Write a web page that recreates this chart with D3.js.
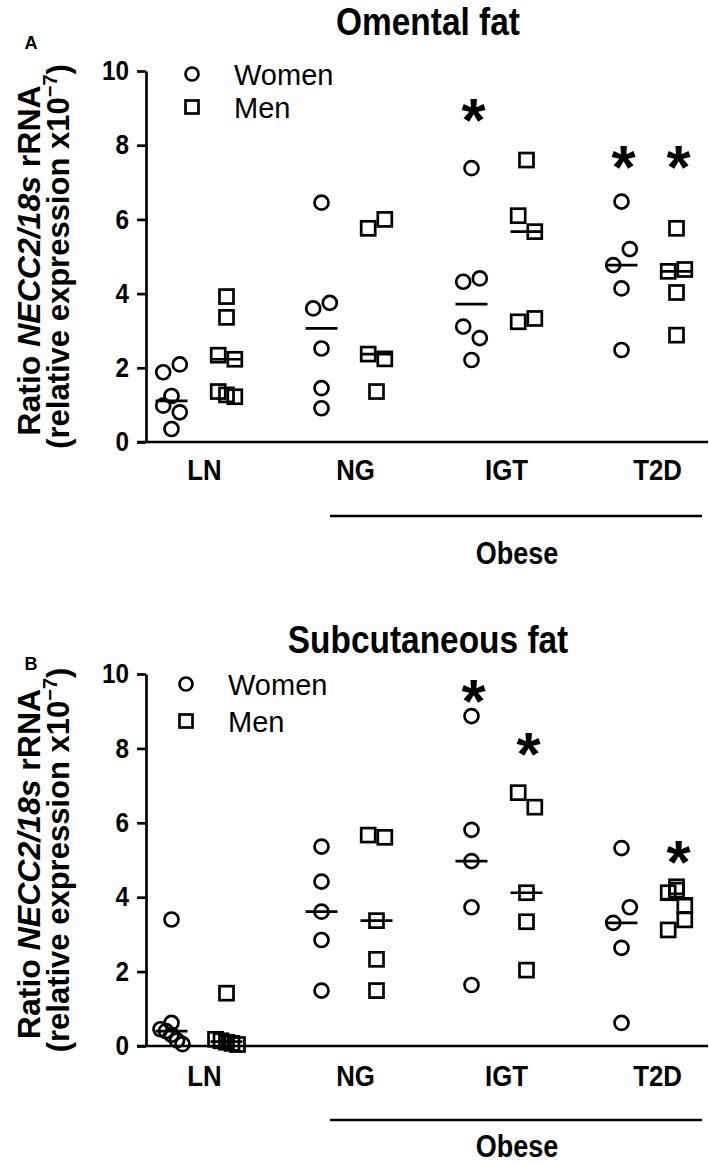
<!DOCTYPE html>
<html>
<head>
<meta charset="utf-8">
<script src="https://cdn.jsdelivr.net/npm/d3@7"></script>
<style>
  html, body { margin: 0; padding: 0; background: #fff; }
  svg { display: block; }
  text { font-family: "Liberation Sans", Arial, Helvetica, sans-serif; fill: #000; }
</style>
</head>
<body>
<svg id="chart" width="709" height="1164"></svg>
<script>
// ---------------- data ----------------
const categories = ["LN", "NG", "IGT", "T2D"];
const sexes = ["Women", "Men"];
const yTicks = [0, 2, 4, 6, 8, 10];

// Omental fat (panel A) – ratio NECC2/18s rRNA (x10^-7)
const omentalWomen = [
  [1.88, 2.09, 1.24, 0.98, 0.80, 0.35],
  [6.45, 3.60, 3.75, 2.52, 1.45, 0.91],
  [7.38, 4.32, 4.41, 3.11, 2.80, 2.21],
  [6.48, 4.77, 5.20, 4.14, 2.48]
];
const omentalMen = [
  [3.36, 3.92, 2.34, 2.23, 1.36, 1.27, 1.22],
  [5.76, 6.00, 2.37, 2.24, 1.36],
  [7.60, 6.10, 5.67, 3.24, 3.33],
  [5.76, 4.60, 4.65, 4.03, 2.88]
];
const omentalStars = [
  { cat: "IGT", sex: "Women", value: 9.08 },
  { cat: "T2D", sex: "Women", value: 7.82 },
  { cat: "T2D", sex: "Men", value: 7.82 }
];

// Subcutaneous fat (panel B)
const subcutWomen = [
  [3.40, 0.62, 0.45, 0.40, 0.30, 0.15, 0.05],
  [5.36, 4.42, 3.61, 2.85, 1.49],
  [8.87, 5.81, 4.97, 3.73, 1.64],
  [5.32, 3.31, 3.73, 2.64, 0.62]
];
const subcutMen = [
  [1.42, 0.18, 0.14, 0.10, 0.07, 0.04],
  [5.67, 5.61, 3.37, 2.33, 1.49],
  [6.81, 6.42, 4.12, 3.34, 2.04],
  [4.28, 4.12, 4.19, 3.78, 3.12, 3.39]
];
const subcutStars = [
  { cat: "IGT", sex: "Women", value: 9.68 },
  { cat: "IGT", sex: "Men", value: 8.24 },
  { cat: "T2D", sex: "Men", value: 5.36 }
];

const panelTitles = ["Omental fat", "Subcutaneous fat"];
const panelLetters = ["A", "B"];
const groupLabel = "Obese";

// ---------------- drawing ----------------
const svg = d3.select("#chart");
svg.append("rect").attr("width", 709).attr("height", 1164).attr("fill", "#fff");

const STROKE = 2.7;
const NARROW = 0.88;
const x = d3.scalePoint().domain(categories).range([199, 649]);
const xSex = d3.scalePoint().domain(sexes).range([-27.5, 27.5]);
const xLabel = d3.scalePoint().domain(categories).range([204, 657]);

// simple column scatter layout: group points whose pixel heights are close into rows
function offsets(values, y) {
  const ROW = 16;
  const order = values.map((v, i) => i).sort((a, b) => values[a] - values[b]);
  const rows = [];
  let cur = null;
  order.forEach(i => {
    const py = y(values[i]);
    if (cur && Math.abs(py - cur.anchor) < ROW) cur.items.push(i);
    else { cur = { anchor: py, items: [i] }; rows.push(cur); }
  });
  const out = new Array(values.length).fill(0);
  rows.forEach(r => {
    const items = r.items.slice().sort((a, b) => a - b);
    const n = items.length;
    const span = n <= 1 ? 0 : (n <= 3 ? 16.6 : 22);
    items.forEach((idx, k) => { out[idx] = n <= 1 ? 0 : -span / 2 + span * k / (n - 1); });
  });
  return out;
}

function narrowText(sel, px, py, size, sx) {
  return sel.append("text")
    .attr("transform", `translate(${px},${py}) scale(${sx},1)`)
    .attr("font-size", size).attr("font-weight", "bold").attr("text-anchor", "middle");
}

function drawPanel(cfg) {
  const g = svg.append("g");
  const y = d3.scaleLinear().domain([0, 10]).range([cfg.y0, cfg.y10]);

  // title & letter
  narrowText(g, 428, cfg.titleY, 38, NARROW).text(cfg.title);
  narrowText(g, 31, cfg.letterY, 19, 0.95).text(cfg.letter);

  // y axis
  const yAxis = d3.axisLeft(y).tickValues(yTicks).tickSize(9).tickSizeOuter(0).tickPadding(8)
    .tickFormat(d3.format("d"));
  const ya = g.append("g").attr("transform", "translate(146,0)").call(yAxis);
  ya.select(".domain").attr("stroke", "#000").attr("stroke-width", STROKE);
  ya.selectAll(".tick line").attr("stroke", "#000").attr("stroke-width", STROKE);
  ya.selectAll(".tick text").attr("font-size", 27).attr("font-weight", "bold")
    .attr("font-family", "Liberation Sans, Arial, sans-serif").attr("fill", "#000")
    .attr("x", -17 / 0.9).attr("transform", "scale(0.9,1)");

  // x baseline
  g.append("line").attr("x1", 137).attr("x2", 708).attr("y1", y(0)).attr("y2", y(0))
    .attr("stroke", "#000").attr("stroke-width", STROKE);
  // x labels
  const xAxis = d3.axisBottom(xLabel).tickSize(0).tickPadding(cfg.labelPad);
  const xa = g.append("g").attr("transform", `translate(0,${y(0)})`).call(xAxis);
  xa.select(".domain").remove();
  xa.selectAll(".tick text").attr("font-size", 30).attr("font-weight", "bold")
    .attr("font-family", "Liberation Sans, Arial, sans-serif").attr("fill", "#000")
    .attr("transform", "scale(0.86,1)");

  // Obese bracket
  g.append("line").attr("x1", 330).attr("x2", 702).attr("y1", y(0) + cfg.obeseLine).attr("y2", y(0) + cfg.obeseLine)
    .attr("stroke", "#000").attr("stroke-width", STROKE);
  narrowText(g, 517, y(0) + cfg.obeseText, 31, 0.87).text(groupLabel);

  // y label
  const cy = (cfg.y0 + cfg.y10) / 2 + 4;
  const l1 = g.append("text").attr("transform", `translate(40,${cy}) rotate(-90)`).attr("text-anchor", "middle")
    .attr("font-size", 32).attr("font-weight", "bold");
  l1.append("tspan").text("Ratio ");
  l1.append("tspan").attr("font-style", "italic").text("NECC2/18s");
  l1.append("tspan").text(" rRNA");
  const l2 = g.append("text").attr("transform", `translate(69,${cy - 4}) rotate(-90)`).attr("text-anchor", "middle")
    .attr("font-size", 31).attr("font-weight", "bold");
  l2.append("tspan").text("(relative expression x10");
  l2.append("tspan").attr("dy", -12).attr("font-size", 20).text("\u22127");
  l2.append("tspan").attr("dy", 12).text(")");

  // legend
  const lg = g.append("g");
  lg.append("circle").attr("cx", cfg.legX).attr("cy", cfg.legY).attr("r", 6.5)
    .attr("fill", "none").attr("stroke", "#000").attr("stroke-width", STROKE);
  lg.append("rect").attr("x", cfg.legX - 6.5).attr("y", cfg.legY + cfg.legGap - 6.5).attr("width", 13).attr("height", 13)
    .attr("fill", "none").attr("stroke", "#000").attr("stroke-width", STROKE);
  lg.append("text").attr("x", cfg.legX + 42).attr("y", cfg.legY + 11).attr("font-size", 29).text("Women");
  lg.append("text").attr("x", cfg.legX + 42).attr("y", cfg.legY + cfg.legGap + 11).attr("font-size", 29).text("Men");

  // points
  const series = [
    { sex: "Women", data: cfg.women },
    { sex: "Men", data: cfg.men }
  ];
  series.forEach(s => {
    s.data.forEach((vals, ci) => {
      const cx = x(categories[ci]) + xSex(s.sex);
      const offs = offsets(vals, y);
      const pts = vals.map((v, i) => ({ v, dx: offs[i] }));
      if (s.sex === "Women") {
        g.selectAll(null).data(pts).enter().append("circle")
          .attr("cx", d => cx + d.dx).attr("cy", d => y(d.v)).attr("r", 7)
          .attr("fill", "none").attr("stroke", "#000").attr("stroke-width", STROKE);
      } else {
        g.selectAll(null).data(pts).enter().append("rect")
          .attr("x", d => cx + d.dx - 7).attr("y", d => y(d.v) - 7).attr("width", 14).attr("height", 14)
          .attr("fill", "none").attr("stroke", "#000").attr("stroke-width", STROKE);
      }
      const med = d3.median(vals);
      g.append("line").attr("x1", cx - 16).attr("x2", cx + 16).attr("y1", y(med)).attr("y2", y(med))
        .attr("stroke", "#000").attr("stroke-width", STROKE);
    });
  });

  // significance stars
  g.selectAll(null).data(cfg.stars).enter().append("text")
    .attr("x", d => x(d.cat) + xSex(d.sex) + 2)
    .attr("y", d => y(d.value) + 36)
    .attr("text-anchor", "middle").attr("font-size", 62).attr("font-weight", "bold").text("*");
}

drawPanel({
  title: panelTitles[0], letter: panelLetters[0], titleY: 35, letterY: 49,
  y0: 442, y10: 71, labelPad: 17, obeseLine: 74, obeseText: 122,
  legX: 192, legY: 74, legGap: 33,
  women: omentalWomen, men: omentalMen, stars: omentalStars
});
drawPanel({
  title: panelTitles[1], letter: panelLetters[1], titleY: 653, letterY: 670,
  y0: 1046, y10: 674, labelPad: 19, obeseLine: 74, obeseText: 111,
  legX: 186, legY: 684, legGap: 37,
  women: subcutWomen, men: subcutMen, stars: subcutStars
});
</script>
</body>
</html>
